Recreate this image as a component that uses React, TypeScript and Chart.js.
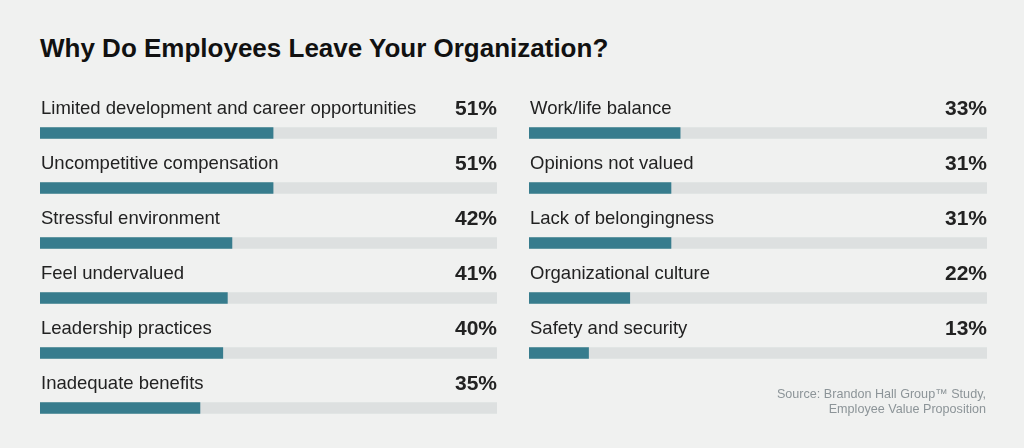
import React, { useEffect, useRef } from "react";
import { Chart, registerables } from "chart.js";

Chart.register(...registerables);

const leftCategories = [
  "Limited development and career opportunities",
  "Uncompetitive compensation",
  "Stressful environment",
  "Feel undervalued",
  "Leadership practices",
  "Inadequate benefits",
];
const leftValues = [51, 51, 42, 41, 40, 35];

const rightCategories = [
  "Work/life balance",
  "Opinions not valued",
  "Lack of belongingness",
  "Organizational culture",
  "Safety and security",
];
const rightValues = [33, 31, 31, 22, 13];

const axisMax = 100;

const TITLE = "Why Do Employees Leave Your Organization?";
const SOURCE_LINES = ["Source: Brandon Hall Group\u2122 Study,", "Employee Value Proposition"];

const TEAL = "#377c8d";
const TRACK = "#dde0e0";
const BG = "#f0f1f0";
const TEXT = "#222222";
const FONT = "'Liberation Sans', Arial, Helvetica, sans-serif";

const rowLabelPlugin = {
  id: "rowLabels",
  afterDatasetsDraw(chart: any) {
    const { ctx, chartArea, scales } = chart;
    const yScale = scales.y;
    const labels = chart.data.labels as string[];
    const values = chart.data.datasets[0].data as number[];
    ctx.save();
    ctx.textBaseline = "alphabetic";
    ctx.fillStyle = TEXT;
    labels.forEach((lab, i) => {
      const py = yScale.getPixelForValue(i);
      ctx.font = `18.5px ${FONT}`;
      ctx.textAlign = "left";
      ctx.fillText(lab, chartArea.left + 1, py - 19);
      ctx.font = `bold 21px ${FONT}`;
      ctx.textAlign = "right";
      ctx.fillText(`${values[i]}%`, chartArea.right, py - 18.5);
    });
    ctx.restore();
  },
};

function BarPanel(props: {
  categories: string[];
  values: number[];
  left: number;
  padding: { left: number; right: number; top: number; bottom: number };
}) {
  const ref = useRef<HTMLCanvasElement | null>(null);
  useEffect(() => {
    if (!ref.current) return;
    const chart = new Chart(ref.current, {
      type: "bar",
      data: {
        labels: props.categories,
        datasets: [
          {
            data: props.values,
            backgroundColor: TEAL,
            barThickness: 11,
            order: 0,
          },
          {
            data: props.categories.map(() => axisMax),
            backgroundColor: TRACK,
            barThickness: 11,
            order: 1,
          },
        ],
      },
      options: {
        indexAxis: "y",
        animation: false,
        responsive: false,
        maintainAspectRatio: false,
        layout: { padding: props.padding },
        scales: {
          x: { display: false, min: 0, max: axisMax, stacked: false },
          y: { display: false, stacked: true },
        },
        plugins: {
          legend: { display: false },
          tooltip: { enabled: false },
        },
      },
      plugins: [rowLabelPlugin],
    } as any);
    return () => chart.destroy();
  }, []);
  return (
    <canvas
      ref={ref}
      width={512}
      height={448}
      style={{ position: "absolute", left: props.left, top: 0, width: 512, height: 448 }}
    />
  );
}

export default function App() {
  return (
    <div
      style={{
        position: "fixed",
        left: 0,
        top: 0,
        width: 1024,
        height: 448,
        background: BG,
        overflow: "hidden",
        fontFamily: FONT,
      }}
    >
      <div
        style={{
          position: "absolute",
          left: 40,
          top: 35,
          fontSize: 26,
          lineHeight: "26px",
          fontWeight: "bold",
          color: "#111111",
          whiteSpace: "nowrap",
        }}
      >
        {TITLE}
      </div>
      <BarPanel
        categories={leftCategories}
        values={leftValues}
        left={0}
        padding={{ left: 40, right: 15, top: 105.5, bottom: 12.5 }}
      />
      <BarPanel
        categories={rightCategories}
        values={rightValues}
        left={512}
        padding={{ left: 17, right: 37, top: 105.5, bottom: 67.5 }}
      />
      <div
        style={{
          position: "absolute",
          right: 38,
          top: 387,
          fontSize: 12.6,
          lineHeight: "15px",
          color: "#8c9498",
          textAlign: "right",
          whiteSpace: "nowrap",
        }}
      >
        {SOURCE_LINES.map((l, i) => (
          <div key={i}>{l}</div>
        ))}
      </div>
    </div>
  );
}
